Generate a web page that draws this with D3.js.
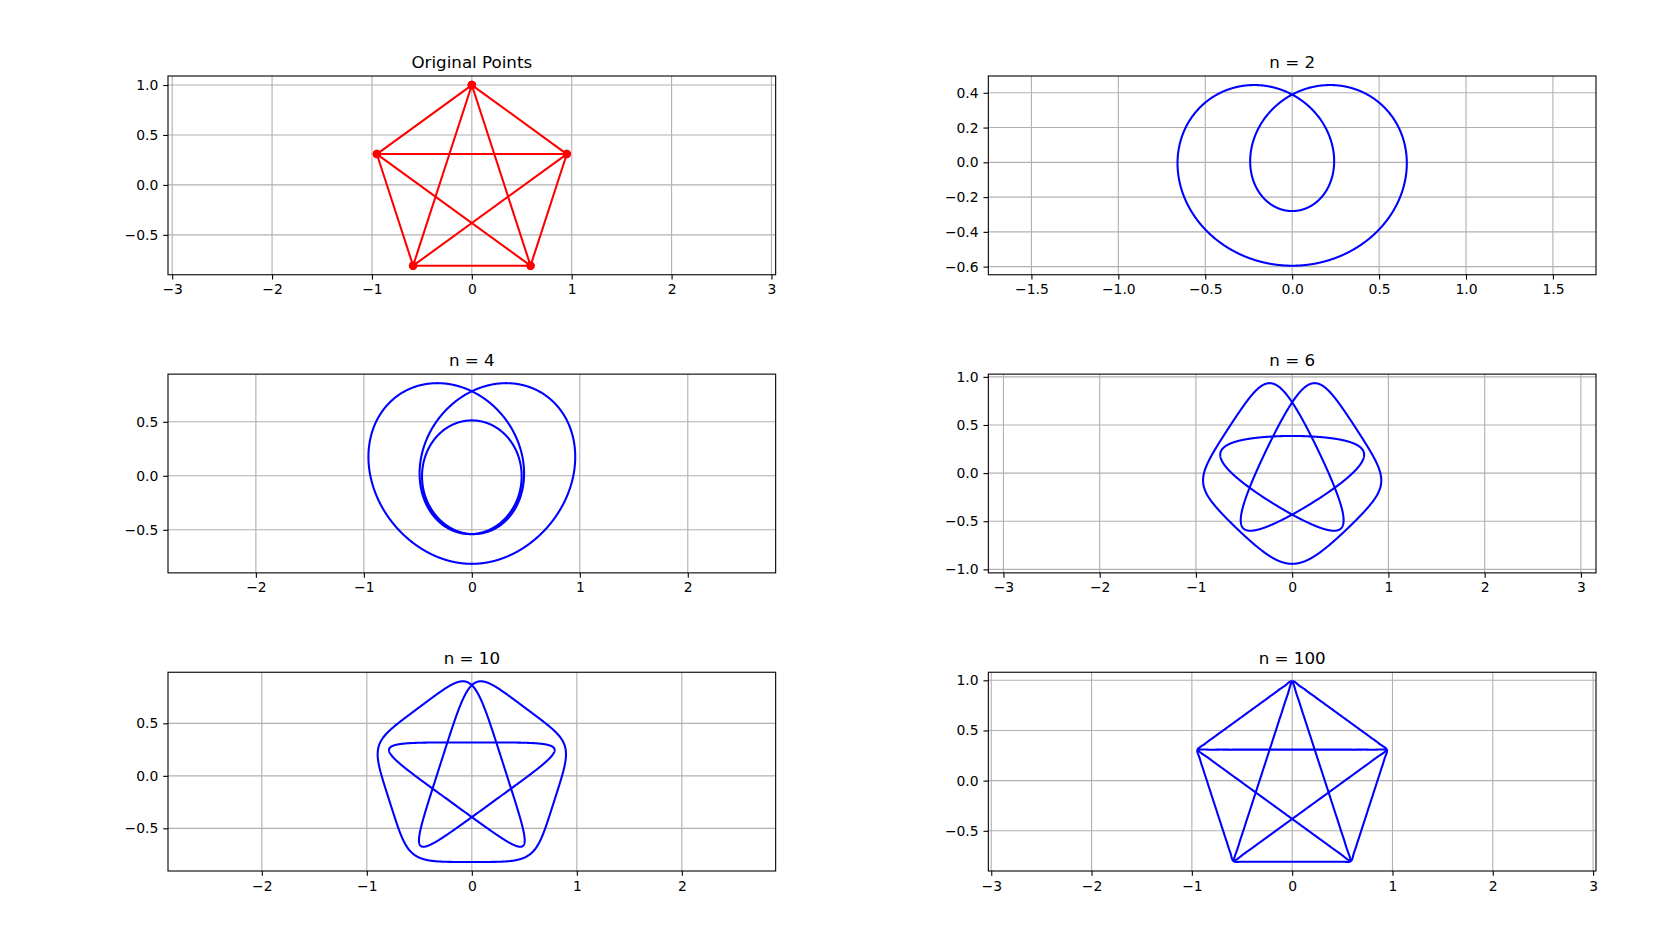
<!DOCTYPE html>
<html>
<head>
<meta charset="utf-8">
<script src="https://cdn.jsdelivr.net/npm/d3@7"></script>
<style>
  body { margin: 0; background: #fff; }
  text { font-family: "DejaVu Sans", sans-serif; }
</style>
</head>
<body>
<svg id="fig" width="1680" height="947"></svg>
<script>
let vertexX = [0, -0.951, -0.588, 0.588, 0.951]
let vertexY = [1, 0.309, -0.809, -0.809, 0.309]
// closed path: once round the pentagon, then through the star, back to the top
let pathOrder = [0, 1, 2, 3, 4, 0, 2, 4, 1, 3, 0]

let panelTitles = ["Original Points", "n = 2", "n = 4", "n = 6", "n = 10", "n = 100"]
let termCounts = [0, 2, 4, 6, 10, 100]   // 0 = the raw points

let xTicks = [
  [-3, -2, -1, 0, 1, 2, 3],
  [-1.5, -1.0, -0.5, 0.0, 0.5, 1.0, 1.5],
  [-2, -1, 0, 1, 2],
  [-3, -2, -1, 0, 1, 2, 3],
  [-2, -1, 0, 1, 2],
  [-3, -2, -1, 0, 1, 2, 3]
]
let yTicks = [
  [-0.5, 0.0, 0.5, 1.0],
  [-0.6, -0.4, -0.2, 0.0, 0.2, 0.4],
  [-0.5, 0.0, 0.5],
  [-1.0, -0.5, 0.0, 0.5, 1.0],
  [-0.5, 0.0, 0.5],
  [-0.5, 0.0, 0.5, 1.0]
]

// figure layout (matplotlib-ish subplots 3x2)
let W = 1680, H = 947
let figLeft = 168, figRight = 1596, figTop = 76, figBottom = 871
let cols = 2, rows = 3, wspace = 0.35, hspace = 0.5
let axW = (figRight - figLeft) / (cols + (cols - 1) * wspace)
let axH = (figBottom - figTop) / (rows + (rows - 1) * hspace)

const svg = d3.select("#fig")
svg.append("rect").attr("width", W).attr("height", H).attr("fill", "#fff")

// points along the path, equal time per edge
const samplePath = (perEdge) => {
  let pts = []
  for (let e = 0; e < pathOrder.length - 1; e++) {
    let a = pathOrder[e], b = pathOrder[e + 1]
    for (let s = 0; s < perEdge; s++) {
      let u = s / perEdge
      pts.push([vertexX[a] + (vertexX[b] - vertexX[a]) * u, vertexY[a] + (vertexY[b] - vertexY[a]) * u])
    }
  }
  return pts
}

// truncated complex fourier series, terms -n..n
const fourierCurve = (n) => {
  let zs = samplePath(400)
  let N = zs.length
  let coefs = []
  for (let m = -n; m <= n; m++) {
    let re = 0, im = 0
    for (let j = 0; j < N; j++) {
      let ang = -2 * Math.PI * m * j / N
      let c = Math.cos(ang), s = Math.sin(ang)
      re += zs[j][0] * c - zs[j][1] * s
      im += zs[j][0] * s + zs[j][1] * c
    }
    coefs.push({ m: m, re: re / N, im: im / N })
  }
  let out = []
  let T = 3000
  for (let k = 0; k <= T; k++) {
    let t = k / T, x = 0, y = 0
    coefs.forEach(c => {
      let ang = 2 * Math.PI * c.m * t
      let cs = Math.cos(ang), sn = Math.sin(ang)
      x += c.re * cs - c.im * sn
      y += c.re * sn + c.im * cs
    })
    out.push([x, y])
  }
  return out
}

const fmt = (ticks) => {
  let dec = ticks.every(v => Number.isInteger(v)) ? 0 : 1
  return d3.format("." + dec + "f")
}

panelTitles.forEach((title, i) => {
  let col = i % 2, row = Math.floor(i / 2)
  let x0 = figLeft + col * axW * (1 + wspace)
  let y0 = figTop + row * axH * (1 + hspace)

  let data = termCounts[i] ? fourierCurve(termCounts[i])
                           : pathOrder.map(k => [vertexX[k], vertexY[k]])

  // data limits + 5% margin, then equal aspect by widening the data range
  let [xmin, xmax] = d3.extent(data, d => d[0])
  let [ymin, ymax] = d3.extent(data, d => d[1])
  let mx = (xmax - xmin) * 0.05, my = (ymax - ymin) * 0.05
  xmin -= mx; xmax += mx; ymin -= my; ymax += my
  let sx = (xmax - xmin) / axW, sy = (ymax - ymin) / axH
  if (sx < sy) {
    let cx = (xmin + xmax) / 2, half = sy * axW / 2
    xmin = cx - half; xmax = cx + half
  } else {
    let cy = (ymin + ymax) / 2, half = sx * axH / 2
    ymin = cy - half; ymax = cy + half
  }

  let x = d3.scaleLinear().domain([xmin, xmax]).range([0, axW])
  let y = d3.scaleLinear().domain([ymin, ymax]).range([axH, 0])

  let g = svg.append("g").attr("transform", `translate(${x0},${y0})`)

  g.append("clipPath").attr("id", "clip" + i)
    .append("rect").attr("width", axW).attr("height", axH)

  // grid
  g.append("g").selectAll("line").data(xTicks[i]).join("line")
    .attr("x1", d => x(d)).attr("x2", d => x(d)).attr("y1", 0).attr("y2", axH)
    .attr("stroke", "#b0b0b0").attr("stroke-width", 1.1)
  g.append("g").selectAll("line").data(yTicks[i]).join("line")
    .attr("y1", d => y(d)).attr("y2", d => y(d)).attr("x1", 0).attr("x2", axW)
    .attr("stroke", "#b0b0b0").attr("stroke-width", 1.1)

  let color = termCounts[i] ? "#0000ff" : "#ff0000"
  let plot = g.append("g").attr("clip-path", `url(#clip${i})`)
  plot.append("path").datum(data)
    .attr("d", d3.line().x(d => x(d[0])).y(d => y(d[1])))
    .attr("fill", "none").attr("stroke", color).attr("stroke-width", 2.08)
    .attr("stroke-linejoin", "round").attr("stroke-linecap", "butt")
  if (!termCounts[i]) {
    plot.selectAll("circle").data(data).join("circle")
      .attr("cx", d => x(d[0])).attr("cy", d => y(d[1])).attr("r", 4.2)
      .attr("fill", color)
  }

  // axes
  let xa = g.append("g").attr("transform", `translate(0,${axH})`)
    .call(d3.axisBottom(x).tickValues(xTicks[i]).tickFormat(fmt(xTicks[i])).tickSizeOuter(0).tickSize(4.86).tickPadding(4.86))
  let ya = g.append("g")
    .call(d3.axisLeft(y).tickValues(yTicks[i]).tickFormat(fmt(yTicks[i])).tickSizeOuter(0).tickSize(4.86).tickPadding(4.86))
  ;[xa, ya].forEach(a => {
    a.select(".domain").remove()
    a.selectAll("line").attr("stroke", "#000").attr("stroke-width", 1.1)
    a.selectAll("text").attr("font-size", 13.9).attr("fill", "#000").attr("font-family", "DejaVu Sans")
  })

  g.append("rect").attr("width", axW).attr("height", axH)
    .attr("fill", "none").attr("stroke", "#000").attr("stroke-width", 1.1)

  g.append("text").attr("x", axW / 2).attr("y", -8.3)
    .attr("text-anchor", "middle").attr("font-size", 16.7).attr("fill", "#000")
    .text(title)
})
</script>
</body>
</html>
